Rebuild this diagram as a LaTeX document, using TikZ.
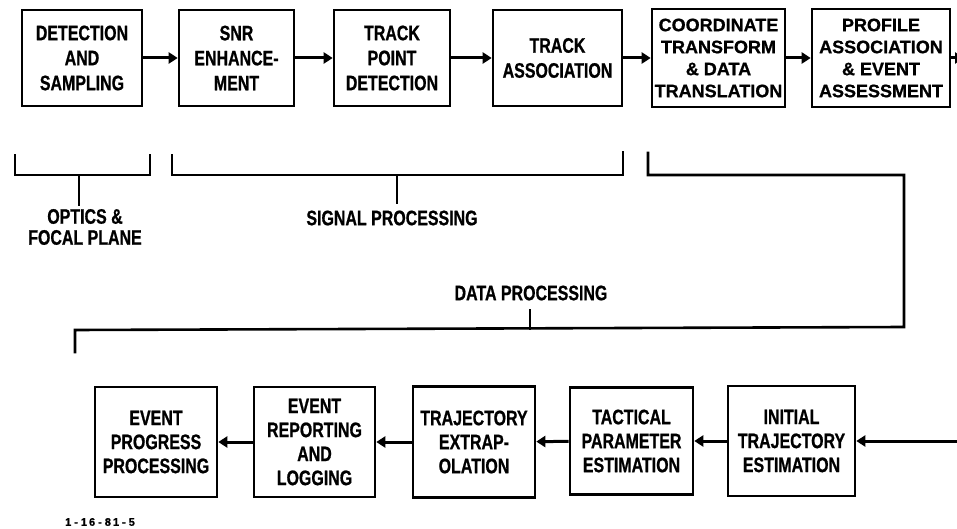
\documentclass[tikz,border=0pt]{standalone}
\usepackage{fontspec}
\usetikzlibrary{arrows.meta}
\newfontfamily\cf{Liberation Sans}[FakeStretch=0.76, BoldFeatures={FakeBold=0.8}]
\newfontfamily\wf{Liberation Sans}[BoldFeatures={FakeBold=0.8}]
\tikzset{
  box/.style={draw, line width=2.6pt, inner sep=0pt, align=center,
    font=\cf\bfseries\fontsize{21}{25}\selectfont},
  boxw/.style={box, font=\wf\bfseries\fontsize{18}{22}\selectfont},
  boxb/.style={box, font=\cf\bfseries\fontsize{21}{24}\selectfont},
  arr/.style={line width=3pt, -{Triangle[length=9pt,width=11pt]}},
  brk/.style={line width=2.6pt, line cap=rect},
  lbl/.style={inner sep=0pt, align=center, font=\cf\bfseries\fontsize{21}{21}\selectfont}
}
\begin{document}
\begin{tikzpicture}[x=1pt,y=-1pt]
\useasboundingbox (0,0) rectangle (957,529);
% top row
\node[box, minimum width=120pt, minimum height=96pt] (A) at (82,58) {DETECTION\\AND\\SAMPLING};
\node[box, minimum width=115pt, minimum height=96pt] (B) at (236.5,58) {SNR\\ENHANCE-\\MENT};
\node[box, minimum width=116pt, minimum height=96pt] (C) at (392,58) {TRACK\\POINT\\DETECTION};
\node[box, minimum width=129pt, minimum height=96pt] (D) at (557.5,58) {TRACK\\ASSOCIATION};
\node[boxw, minimum width=133pt, minimum height=98pt] (E) at (718.5,58) {COORDINATE\\TRANSFORM\\\& DATA\\TRANSLATION};
\node[boxw, minimum width=138pt, minimum height=98pt] (F) at (881,58) {PROFILE\\ASSOCIATION\\\& EVENT\\ASSESSMENT};
\coordinate (outR) at (964,58);
\draw[arr] (A) -- (B);
\draw[arr] (B) -- (C);
\draw[arr] (C) -- (D);
\draw[arr] (D) -- (E);
\draw[arr] (E) -- (F);
\draw[arr] (F) -- (outR);
% brackets
\draw[brk] (15,155) -- (15,175) -- (150,175) -- (150,155);
\draw[brk] (79,175) -- (79,205);
\node[lbl] (optics) at (85,227) {OPTICS \&\\FOCAL PLANE};
\draw[brk] (172,155) -- (172,175) -- (623,175) -- (623,152);
\draw[brk] (397,175) -- (397,203);
\node[lbl] (sigp) at (392,218) {SIGNAL PROCESSING};
\draw[brk] (648,153) -- (648,175) -- (904,175) -- (904,327) -- (75,330) -- (75,352);
\draw[brk] (530,310) -- (530,329);
\node[lbl] (datap) at (531,293) {DATA PROCESSING};
% bottom row
\node[boxb, minimum width=122pt, minimum height=110pt] (G) at (156,442) {EVENT\\PROGRESS\\PROCESSING};
\node[boxb, minimum width=121pt, minimum height=110pt] (H) at (314.5,442) {EVENT\\REPORTING\\AND\\LOGGING};
\node[boxb, minimum width=122pt, minimum height=111pt] (I) at (474,442) {TRAJECTORY\\EXTRAP-\\OLATION};
\node[boxb, minimum width=123pt, minimum height=107pt] (J) at (631.5,441) {TACTICAL\\PARAMETER\\ESTIMATION};
\node[boxb, minimum width=127pt, minimum height=110pt] (K) at (791.5,441) {INITIAL\\TRAJECTORY\\ESTIMATION};
\coordinate (inR) at (957,441);
\draw[arr] (inR) -- (K);
\draw[arr] (K) -- (J);
\draw[arr] (J) -- (I);
\draw[arr] (I) -- (H);
\draw[arr] (H) -- (G);
\node[inner sep=0pt, font=\wf\bfseries\fontsize{11}{11}\selectfont] (tag) at (100,522)
  {1\kern3pt-\kern3pt1\kern2pt6\kern3pt-\kern3pt8\kern2pt1\kern3pt-\kern3pt5};
\end{tikzpicture}
\end{document}
